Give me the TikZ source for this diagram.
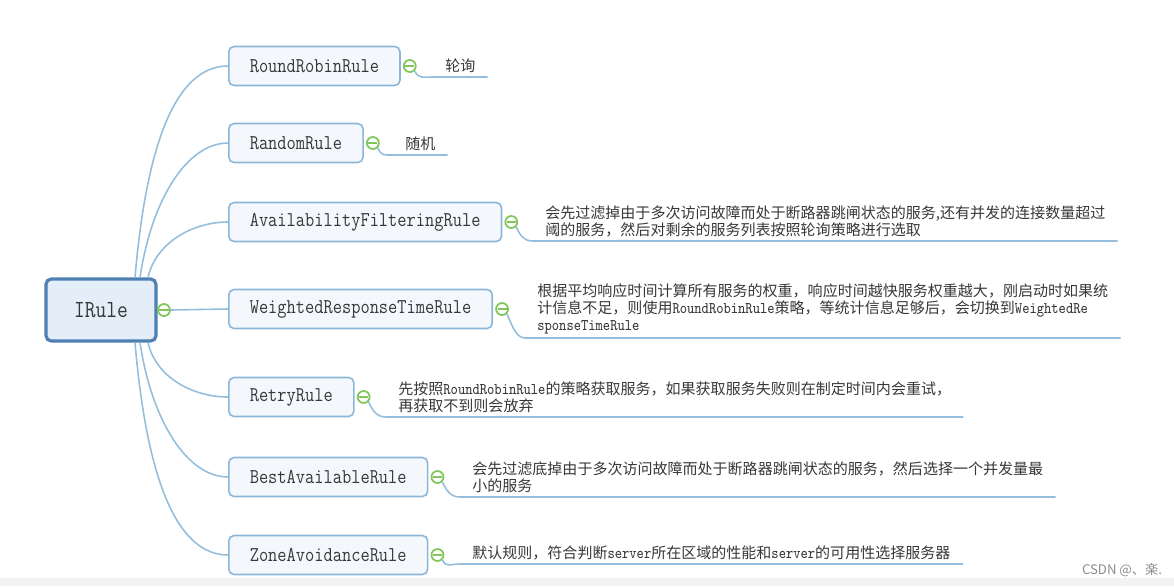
\documentclass[tikz,border=0pt]{standalone}
\usepackage{fontspec}
\usepackage{xcolor}
\setmainfont{Liberation Serif}
\newfontfamily\cjk{Noto Sans CJK SC}
\newfontfamily\rulefont[FakeStretch=0.85]{Latin Modern Mono}
\usetikzlibrary{calc, positioning}

\definecolor{linecol}{RGB}{148,190,220}
\definecolor{boxline}{RGB}{140,182,216}
\definecolor{boxfill}{RGB}{244,248,253}
\definecolor{rootline}{RGB}{78,128,178}
\definecolor{rootfill}{RGB}{228,238,249}
\definecolor{togcol}{RGB}{128,198,88}
\definecolor{txtcol}{RGB}{55,55,55}
\definecolor{bandcol}{RGB}{242,242,242}
\definecolor{wmcol}{RGB}{140,140,140}

\newcommand{\desc}{\cjk\fontsize{8.55}{9.7}\selectfont}
\newcommand{\lat}[1]{{\rulefont\fontsize{9.3}{9.7}\selectfont #1}}

\begin{document}
\begin{tikzpicture}[x=0.02cm, y=-0.02cm,
    branch/.style={draw=linecol, line width=0.9pt},
    rulebox/.style={draw=boxline, fill=boxfill, line width=0.9pt, rounded corners=3pt,
        anchor=west, minimum height=0.78cm, inner xsep=0.42cm, text=txtcol,
        font=\rulefont\fontsize{12}{14}\selectfont},
    rootbox/.style={draw=rootline, fill=rootfill, line width=1.8pt, rounded corners=3pt,
        minimum width=2.2cm, minimum height=1.24cm, text=txtcol,
        font=\rulefont\fontsize{14}{16}\selectfont},
    toggle/.style={circle, draw=togcol, fill=white, line width=1pt, minimum size=0.24cm,
        inner sep=0pt, path picture={\draw[togcol, line width=1pt]
        ([xshift=-2.6pt]path picture bounding box.center) --
        ([xshift=2.6pt]path picture bounding box.center);}},
    leaf/.style={anchor=south west, inner xsep=0.24cm, inner ysep=2pt, align=left,
        text=txtcol, font=\desc}]

    \useasboundingbox (0,0) rectangle (1174,586);
    \fill[bandcol] (0,578) rectangle (1174,586);

    % =================================================================
    % ROOT AND RULE BOXES
    % =================================================================
    \node[rootbox] (root) at (101,310) {IRule};
    \node[toggle] (root-t) at (164,310) {};

    \node[rulebox] (rr) at (228,66) {RoundRobinRule};
    \node[rulebox] (rand) at (228,143) {RandomRule};
    \node[rulebox] (avail) at (228,222) {AvailabilityFilteringRule};
    \node[rulebox] (weight) at (228,309) {WeightedResponseTimeRule};
    \node[rulebox] (retry) at (228,397) {RetryRule};
    \node[rulebox] (best) at (228,477) {BestAvailableRule};
    \node[rulebox] (zone) at (228,555) {ZoneAvoidanceRule};

    % toggles right of each box
    \foreach \n in {rr, rand, avail, weight, retry, best, zone}
        \node[toggle] (\n-t) at ($(\n.east)+(9,0)$) {};

    % =================================================================
    % BRANCHES FROM IRule
    % =================================================================
    \draw[branch] ($(root.north)+(34,0)$) .. controls +(12,-140) and +(-50,0) .. (rr.west);
    \draw[branch] ($(root.north)+(39,0)$) .. controls +(12,-80) and +(-40,0) .. (rand.west);
    \draw[branch] ($(root.north)+(47,0)$) .. controls +(8,-35) and +(-35,0) .. (avail.west);
    \draw[branch] (root-t.east) -- (weight.west);
    \draw[branch] ($(root.south)+(47,0)$) .. controls +(8,35) and +(-35,0) .. (retry.west);
    \draw[branch] ($(root.south)+(39,0)$) .. controls +(12,80) and +(-40,0) .. (best.west);
    \draw[branch] ($(root.south)+(34,0)$) .. controls +(12,140) and +(-50,0) .. (zone.west);

    % =================================================================
    % DESCRIPTIONS
    % =================================================================
    \node[leaf] (rr-d) at (433,77) {轮询};
    \node[leaf] (rand-d) at (393,155) {随机};
    \node[leaf] (avail-d) at (533,241)
        {会先过滤掉由于多次访问故障而处于断路器跳闸状态的服务,还有并发的连接数量超过\\
         阈的服务，然后对剩余的服务列表按照轮询策略进行选取};
    \node[leaf] (weight-d) at (525,338)
        {根据平均响应时间计算所有服务的权重，响应时间越快服务权重越大，刚启动时如果统\\
         计信息不足，则使用\lat{RoundRobinRule}策略，等统计信息足够后，会切换到\lat{WeightedRe}\\
         \lat{sponseTimeRule}};
    \node[leaf] (retry-d) at (386,417)
        {先按照\lat{RoundRobinRule}的策略获取服务，如果获取服务失败则在制定时间内会重试，\\
         再获取不到则会放弃};
    \node[leaf] (best-d) at (460,497)
        {会先过滤底掉由于多次访问故障而处于断路器跳闸状态的服务，然后选择一个并发量最\\
         小的服务};
    \node[leaf] (zone-d) at (460,564)
        {默认规则，符合判断\lat{server}所在区域的性能和\lat{server}的可用性选择服务器};

    % underlines from toggles
    \foreach \n in {rr, rand, avail, weight, retry, best, zone}
        \draw[branch] (\n-t.south east) .. controls +(4,8) and +(-10,0) .. (\n-d.south west)
            -- (\n-d.south east);

    \node[text=wmcol, font=\cjk\fontsize{7.5}{9}\selectfont] (mark) at (1122,570) {CSDN @、楽.};

\end{tikzpicture}
\end{document}
